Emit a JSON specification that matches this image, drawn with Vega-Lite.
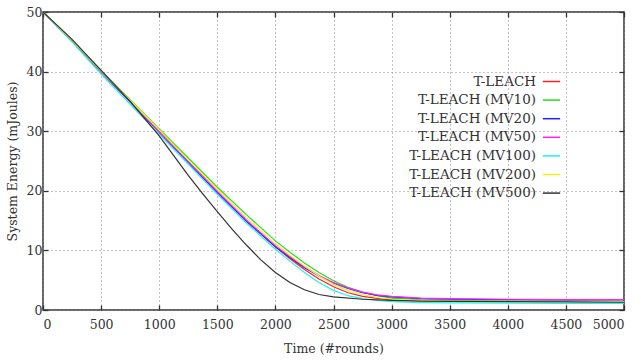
{
  "$schema": "https://vega.github.io/schema/vega-lite/v6.json",
  "width": 581,
  "height": 298,
  "autosize": {"type": "none"},
  "padding": {"left": 43, "top": 12, "right": 17, "bottom": 54},
  "background": "white",
  "config": {
    "font": "DejaVu Serif",
    "view": {"stroke": "#333333", "strokeWidth": 1.5},
    "axis": {
      "labelFont": "DejaVu Serif",
      "titleFont": "DejaVu Serif",
      "labelFontSize": 12.5,
      "titleFontSize": 12.5,
      "titleFontWeight": "normal",
      "labelColor": "#333333",
      "titleColor": "#333333",
      "domain": false,
      "tickColor": "#333333",
      "tickSize": -5,
      "tickWidth": 1.3,
      "grid": true,
      "gridColor": "#888888",
      "gridDash": [1, 3],
      "gridWidth": 1
    }
  },
  "data": {
    "values": [
      {"s": "T-LEACH", "t": 0, "e": 50}, {"s": "T-LEACH", "t": 250, "e": 45.2}, {"s": "T-LEACH", "t": 500, "e": 40.0}, {"s": "T-LEACH", "t": 750, "e": 35.0}, {"s": "T-LEACH", "t": 1000, "e": 30.0}, {"s": "T-LEACH", "t": 1250, "e": 24.9}, {"s": "T-LEACH", "t": 1500, "e": 19.9}, {"s": "T-LEACH", "t": 1750, "e": 15.0}, {"s": "T-LEACH", "t": 2000, "e": 10.6}, {"s": "T-LEACH", "t": 2125, "e": 8.6}, {"s": "T-LEACH", "t": 2250, "e": 6.8}, {"s": "T-LEACH", "t": 2375, "e": 5.2}, {"s": "T-LEACH", "t": 2500, "e": 3.9}, {"s": "T-LEACH", "t": 2625, "e": 2.9}, {"s": "T-LEACH", "t": 2750, "e": 2.3}, {"s": "T-LEACH", "t": 2875, "e": 1.95}, {"s": "T-LEACH", "t": 3000, "e": 1.7}, {"s": "T-LEACH", "t": 3250, "e": 1.55}, {"s": "T-LEACH", "t": 3500, "e": 1.5}, {"s": "T-LEACH", "t": 4000, "e": 1.45}, {"s": "T-LEACH", "t": 4500, "e": 1.45}, {"s": "T-LEACH", "t": 5000, "e": 1.4},
      {"s": "T-LEACH (MV10)", "t": 0, "e": 50}, {"s": "T-LEACH (MV10)", "t": 250, "e": 45.3}, {"s": "T-LEACH (MV10)", "t": 500, "e": 40.2}, {"s": "T-LEACH (MV10)", "t": 750, "e": 35.3}, {"s": "T-LEACH (MV10)", "t": 1000, "e": 30.4}, {"s": "T-LEACH (MV10)", "t": 1250, "e": 25.5}, {"s": "T-LEACH (MV10)", "t": 1500, "e": 20.6}, {"s": "T-LEACH (MV10)", "t": 1750, "e": 16.0}, {"s": "T-LEACH (MV10)", "t": 2000, "e": 11.6}, {"s": "T-LEACH (MV10)", "t": 2125, "e": 9.7}, {"s": "T-LEACH (MV10)", "t": 2250, "e": 7.9}, {"s": "T-LEACH (MV10)", "t": 2375, "e": 6.3}, {"s": "T-LEACH (MV10)", "t": 2500, "e": 4.9}, {"s": "T-LEACH (MV10)", "t": 2625, "e": 3.8}, {"s": "T-LEACH (MV10)", "t": 2750, "e": 3.0}, {"s": "T-LEACH (MV10)", "t": 2875, "e": 2.4}, {"s": "T-LEACH (MV10)", "t": 3000, "e": 2.0}, {"s": "T-LEACH (MV10)", "t": 3250, "e": 1.7}, {"s": "T-LEACH (MV10)", "t": 3500, "e": 1.6}, {"s": "T-LEACH (MV10)", "t": 4000, "e": 1.5}, {"s": "T-LEACH (MV10)", "t": 4500, "e": 1.45}, {"s": "T-LEACH (MV10)", "t": 5000, "e": 1.4},
      {"s": "T-LEACH (MV20)", "t": 0, "e": 50}, {"s": "T-LEACH (MV20)", "t": 250, "e": 45.1}, {"s": "T-LEACH (MV20)", "t": 500, "e": 39.9}, {"s": "T-LEACH (MV20)", "t": 750, "e": 34.9}, {"s": "T-LEACH (MV20)", "t": 1000, "e": 29.8}, {"s": "T-LEACH (MV20)", "t": 1250, "e": 24.7}, {"s": "T-LEACH (MV20)", "t": 1500, "e": 19.7}, {"s": "T-LEACH (MV20)", "t": 1750, "e": 14.9}, {"s": "T-LEACH (MV20)", "t": 2000, "e": 10.6}, {"s": "T-LEACH (MV20)", "t": 2125, "e": 8.8}, {"s": "T-LEACH (MV20)", "t": 2250, "e": 7.1}, {"s": "T-LEACH (MV20)", "t": 2375, "e": 5.7}, {"s": "T-LEACH (MV20)", "t": 2500, "e": 4.5}, {"s": "T-LEACH (MV20)", "t": 2625, "e": 3.6}, {"s": "T-LEACH (MV20)", "t": 2750, "e": 2.9}, {"s": "T-LEACH (MV20)", "t": 2875, "e": 2.45}, {"s": "T-LEACH (MV20)", "t": 3000, "e": 2.2}, {"s": "T-LEACH (MV20)", "t": 3250, "e": 1.9}, {"s": "T-LEACH (MV20)", "t": 3500, "e": 1.8}, {"s": "T-LEACH (MV20)", "t": 4000, "e": 1.75}, {"s": "T-LEACH (MV20)", "t": 4500, "e": 1.7}, {"s": "T-LEACH (MV20)", "t": 5000, "e": 1.7},
      {"s": "T-LEACH (MV50)", "t": 0, "e": 50}, {"s": "T-LEACH (MV50)", "t": 250, "e": 45.2}, {"s": "T-LEACH (MV50)", "t": 500, "e": 40.0}, {"s": "T-LEACH (MV50)", "t": 750, "e": 35.0}, {"s": "T-LEACH (MV50)", "t": 1000, "e": 29.9}, {"s": "T-LEACH (MV50)", "t": 1250, "e": 24.9}, {"s": "T-LEACH (MV50)", "t": 1500, "e": 19.9}, {"s": "T-LEACH (MV50)", "t": 1750, "e": 15.1}, {"s": "T-LEACH (MV50)", "t": 2000, "e": 10.8}, {"s": "T-LEACH (MV50)", "t": 2125, "e": 9.0}, {"s": "T-LEACH (MV50)", "t": 2250, "e": 7.3}, {"s": "T-LEACH (MV50)", "t": 2375, "e": 5.8}, {"s": "T-LEACH (MV50)", "t": 2500, "e": 4.6}, {"s": "T-LEACH (MV50)", "t": 2625, "e": 3.7}, {"s": "T-LEACH (MV50)", "t": 2750, "e": 3.0}, {"s": "T-LEACH (MV50)", "t": 2875, "e": 2.55}, {"s": "T-LEACH (MV50)", "t": 3000, "e": 2.3}, {"s": "T-LEACH (MV50)", "t": 3250, "e": 2.0}, {"s": "T-LEACH (MV50)", "t": 3500, "e": 1.9}, {"s": "T-LEACH (MV50)", "t": 4000, "e": 1.8}, {"s": "T-LEACH (MV50)", "t": 4500, "e": 1.75}, {"s": "T-LEACH (MV50)", "t": 5000, "e": 1.75},
      {"s": "T-LEACH (MV100)", "t": 0, "e": 50}, {"s": "T-LEACH (MV100)", "t": 250, "e": 45.0}, {"s": "T-LEACH (MV100)", "t": 500, "e": 39.6}, {"s": "T-LEACH (MV100)", "t": 750, "e": 34.5}, {"s": "T-LEACH (MV100)", "t": 1000, "e": 29.5}, {"s": "T-LEACH (MV100)", "t": 1250, "e": 24.5}, {"s": "T-LEACH (MV100)", "t": 1500, "e": 19.4}, {"s": "T-LEACH (MV100)", "t": 1750, "e": 14.6}, {"s": "T-LEACH (MV100)", "t": 2000, "e": 10.2}, {"s": "T-LEACH (MV100)", "t": 2125, "e": 8.2}, {"s": "T-LEACH (MV100)", "t": 2250, "e": 6.3}, {"s": "T-LEACH (MV100)", "t": 2375, "e": 4.6}, {"s": "T-LEACH (MV100)", "t": 2500, "e": 3.3}, {"s": "T-LEACH (MV100)", "t": 2625, "e": 2.4}, {"s": "T-LEACH (MV100)", "t": 2750, "e": 1.9}, {"s": "T-LEACH (MV100)", "t": 2875, "e": 1.6}, {"s": "T-LEACH (MV100)", "t": 3000, "e": 1.4}, {"s": "T-LEACH (MV100)", "t": 3250, "e": 1.25}, {"s": "T-LEACH (MV100)", "t": 3500, "e": 1.2}, {"s": "T-LEACH (MV100)", "t": 4000, "e": 1.15}, {"s": "T-LEACH (MV100)", "t": 4500, "e": 1.1}, {"s": "T-LEACH (MV100)", "t": 5000, "e": 1.1},
      {"s": "T-LEACH (MV200)", "t": 0, "e": 50}, {"s": "T-LEACH (MV200)", "t": 250, "e": 45.3}, {"s": "T-LEACH (MV200)", "t": 500, "e": 40.1}, {"s": "T-LEACH (MV200)", "t": 750, "e": 35.2}, {"s": "T-LEACH (MV200)", "t": 1000, "e": 30.2}, {"s": "T-LEACH (MV200)", "t": 1250, "e": 25.2}, {"s": "T-LEACH (MV200)", "t": 1500, "e": 20.3}, {"s": "T-LEACH (MV200)", "t": 1750, "e": 15.5}, {"s": "T-LEACH (MV200)", "t": 2000, "e": 11.1}, {"s": "T-LEACH (MV200)", "t": 2125, "e": 9.2}, {"s": "T-LEACH (MV200)", "t": 2250, "e": 7.4}, {"s": "T-LEACH (MV200)", "t": 2375, "e": 5.7}, {"s": "T-LEACH (MV200)", "t": 2500, "e": 4.3}, {"s": "T-LEACH (MV200)", "t": 2625, "e": 3.3}, {"s": "T-LEACH (MV200)", "t": 2750, "e": 2.6}, {"s": "T-LEACH (MV200)", "t": 2875, "e": 2.1}, {"s": "T-LEACH (MV200)", "t": 3000, "e": 1.8}, {"s": "T-LEACH (MV200)", "t": 3250, "e": 1.6}, {"s": "T-LEACH (MV200)", "t": 3500, "e": 1.5}, {"s": "T-LEACH (MV200)", "t": 4000, "e": 1.45}, {"s": "T-LEACH (MV200)", "t": 4500, "e": 1.4}, {"s": "T-LEACH (MV200)", "t": 5000, "e": 1.4},
      {"s": "T-LEACH (MV500)", "t": 0, "e": 50}, {"s": "T-LEACH (MV500)", "t": 250, "e": 45.4}, {"s": "T-LEACH (MV500)", "t": 500, "e": 40.2}, {"s": "T-LEACH (MV500)", "t": 750, "e": 35.0}, {"s": "T-LEACH (MV500)", "t": 1000, "e": 29.2}, {"s": "T-LEACH (MV500)", "t": 1125, "e": 25.9}, {"s": "T-LEACH (MV500)", "t": 1250, "e": 22.6}, {"s": "T-LEACH (MV500)", "t": 1375, "e": 19.5}, {"s": "T-LEACH (MV500)", "t": 1500, "e": 16.5}, {"s": "T-LEACH (MV500)", "t": 1625, "e": 13.6}, {"s": "T-LEACH (MV500)", "t": 1750, "e": 10.9}, {"s": "T-LEACH (MV500)", "t": 1875, "e": 8.4}, {"s": "T-LEACH (MV500)", "t": 2000, "e": 6.3}, {"s": "T-LEACH (MV500)", "t": 2125, "e": 4.6}, {"s": "T-LEACH (MV500)", "t": 2250, "e": 3.4}, {"s": "T-LEACH (MV500)", "t": 2375, "e": 2.6}, {"s": "T-LEACH (MV500)", "t": 2500, "e": 2.2}, {"s": "T-LEACH (MV500)", "t": 2750, "e": 1.8}, {"s": "T-LEACH (MV500)", "t": 3000, "e": 1.6}, {"s": "T-LEACH (MV500)", "t": 3250, "e": 1.5}, {"s": "T-LEACH (MV500)", "t": 3500, "e": 1.45}, {"s": "T-LEACH (MV500)", "t": 4000, "e": 1.4}, {"s": "T-LEACH (MV500)", "t": 4500, "e": 1.35}, {"s": "T-LEACH (MV500)", "t": 5000, "e": 1.3}
    ]
  },
  "layer": [
    {
      "mark": {"type": "line", "strokeWidth": 1.2, "clip": true},
      "encoding": {
        "x": {"field": "t", "type": "quantitative", "scale": {"domain": [0, 5000], "nice": false, "zero": true},
              "axis": {"title": "Time (#rounds)", "values": [0,500,1000,1500,2000,2500,3000,3500,4000,4500,5000], "labelPadding": 13, "titlePadding": 12, "format": "d"}},
        "y": {"field": "e", "type": "quantitative", "scale": {"domain": [0, 50], "nice": false},
              "axis": {"title": "System Energy (mJoules)", "values": [0,10,20,30,40,50], "labelPadding": 6, "titlePadding": 7}},
        "color": {"field": "s", "type": "nominal",
          "scale": {"domain": ["T-LEACH", "T-LEACH (MV10)", "T-LEACH (MV20)", "T-LEACH (MV50)", "T-LEACH (MV100)", "T-LEACH (MV200)", "T-LEACH (MV500)"],
                    "range": ["#ff2020", "#20e020", "#2020ff", "#ff20ff", "#20f0f0", "#f0f020", "#333333"]},
          "legend": {
            "title": null, "orient": "none", "legendX": 499, "legendY": 60,
            "symbolType": "stroke", "symbolSize": 300, "symbolStrokeWidth": 1.5,
            "labelAlign": "right", "labelOffset": -25, "labelFont": "DejaVu Serif", "labelFontSize": 13.5,
            "labelColor": "#333333", "rowPadding": 2.6, "labelLimit": 300
          }}
      }
    },
    {
      "mark": {"type": "line", "opacity": 0},
      "encoding": {
        "x": {"field": "t", "type": "quantitative", "axis": {"orient": "top", "labels": false, "grid": false, "title": null, "tickSize": -5, "values": [0,500,1000,1500,2000,2500,3000,3500,4000,4500,5000]}},
        "y": {"field": "e", "type": "quantitative", "axis": {"orient": "right", "labels": false, "grid": false, "title": null, "tickSize": -5, "values": [0,10,20,30,40,50]}},
        "detail": {"field": "s"}
      }
    }
  ],
  "resolve": {"axis": {"x": "independent", "y": "independent"}}
}
